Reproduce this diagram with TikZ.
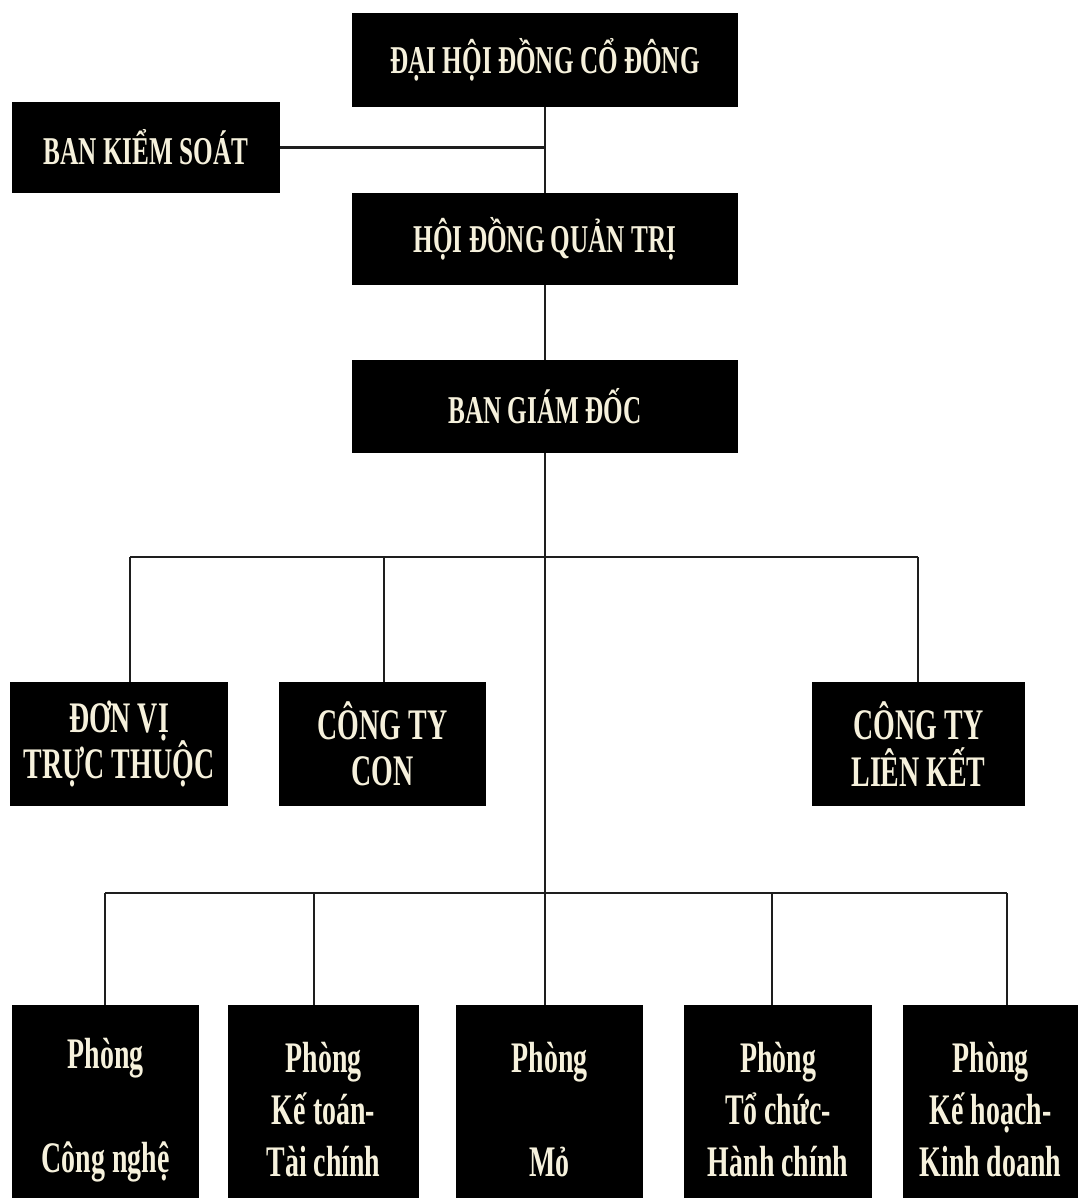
\documentclass[tikz,border=0pt]{standalone}
\usepackage{fontspec}
\setmainfont{Liberation Serif}[FakeStretch=0.64]
\usepackage{tikz}
\usetikzlibrary{positioning}
\definecolor{cream}{HTML}{F6F1DC}
\definecolor{wire}{HTML}{1E1E1E}

\tikzset{
  unit/.style={fill=black, text=cream, align=center, inner sep=0pt},
  topunit/.style={unit, font=\bfseries\fontsize{28}{30}\selectfont},
  midunit/.style={unit, font=\bfseries\fontsize{31}{33}\selectfont,
    minimum height=3.1cm},
  room/.style={unit, font=\bfseries\fontsize{31}{37}\selectfont,
    minimum height=5.25cm},
  link/.style={draw=wire, line width=2pt}
}

\begin{document}
\begin{tikzpicture}[x=0.025cm, y=-0.025cm]
\useasboundingbox (0,0) rectangle (1083,1198);

% upper levels
\node[topunit, minimum width=9.65cm, minimum height=2.35cm] (dhcd) at (545,60)
  {ĐẠI HỘI ĐỒNG CỔ ĐÔNG};
\node[topunit, minimum width=6.7cm, minimum height=2.275cm] (bks) at (146,147.5)
  {BAN KIỂM SOÁT};
\node[topunit, minimum width=9.65cm, minimum height=2.3cm] (hdqt) at (545,239)
  {HỘI ĐỒNG QUẢN TRỊ};
\node[topunit, minimum width=9.65cm, minimum height=2.325cm] (bgd) at (545,406.5)
  {BAN GIÁM ĐỐC};

% units
\node[midunit, minimum width=5.45cm] (dvtt) at (119,744) {ĐƠN VỊ\\TRỰC THUỘC};
\node[midunit, minimum width=5.175cm] (ctcon) at (382.5,744) {CÔNG TY\\CON};
\node[midunit, minimum width=5.325cm] (ctlk) at (918.5,744) {CÔNG TY\\LIÊN KẾT};

% departments (cut by the page edge)
\node[room, minimum width=4.675cm] (pcn) at (105.5,1110) {Phòng\\~\\Công nghệ};
\node[room, minimum width=4.775cm] (pkt) at (323.5,1110) {Phòng\\Kế toán-\\Tài chính};
\node[room, minimum width=4.675cm] (pmo) at (549.5,1110) {Phòng\\~\\Mỏ};
\node[room, minimum width=4.7cm] (ptc) at (778,1110) {Phòng\\Tổ chức-\\Hành chính};
\node[room, minimum width=4.375cm] (pkh) at (990.5,1110) {Phòng\\Kế hoạch-\\Kinh doanh};

% bus lines
\coordinate (busa) at (545,557);
\coordinate (busb) at (545,893);

\draw[link] (dhcd.south) -- (hdqt.north);
\draw[link] (bks.east) -- (bks.east -| dhcd.south);
\draw[link] (hdqt.south) -- (bgd.north);
\draw[link] (bgd.south) -- (bgd.south |- pmo.north);

\draw[link] (130,557 |- busa) coordinate (a1) -- (918,557 |- busa) coordinate (a2);
\draw[link] (a1) -- (a1 |- dvtt.north);
\draw[link] (384,557) coordinate (a3) -- (a3 |- ctcon.north);
\draw[link] (a2) -- (a2 |- ctlk.north);

\draw[link] (105,893 |- busb) coordinate (b1) -- (1007,893 |- busb) coordinate (b2);
\draw[link] (b1) -- (b1 |- pcn.north);
\draw[link] (314,893) coordinate (b3) -- (b3 |- pkt.north);
\draw[link] (772,893) coordinate (b4) -- (b4 |- ptc.north);
\draw[link] (b2) -- (b2 |- pkh.north);
\end{tikzpicture}
\end{document}
